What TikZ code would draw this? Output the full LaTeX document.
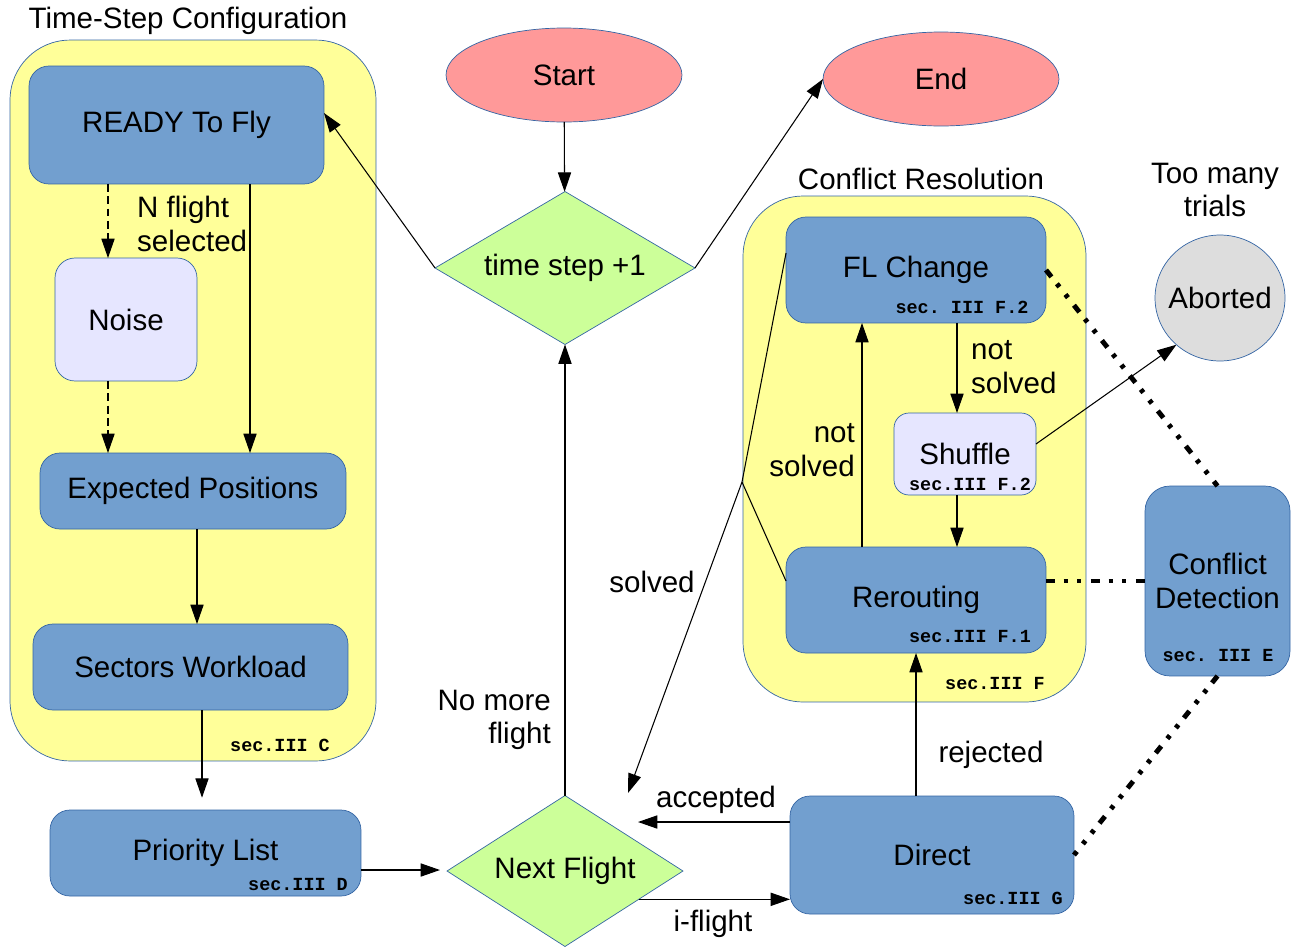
\documentclass[tikz,border=0pt]{standalone}
\usepackage{fontspec}
\setmainfont{Liberation Sans}
\setmonofont{Liberation Mono}
\usetikzlibrary{arrows.meta,shapes.geometric}
\definecolor{boxblue}{HTML}{729FCF}
\definecolor{lineblue}{HTML}{3465A4}
\definecolor{groupyellow}{HTML}{FFFF99}
\definecolor{decgreen}{HTML}{CCFF99}
\definecolor{termred}{HTML}{FF9999}
\definecolor{lightlav}{HTML}{E6E6FF}
\definecolor{abortgray}{HTML}{DDDDDD}
\tikzset{
  group/.style={draw=lineblue, fill=groupyellow, rounded corners=1.2cm, inner sep=0pt, outer sep=0pt},
  box/.style={draw=lineblue, fill=boxblue, rounded corners=0.4cm, inner sep=0pt, outer sep=0pt},
  lightbox/.style={draw=lineblue, fill=lightlav, rounded corners=0.3cm, inner sep=0pt, outer sep=0pt},
  term/.style={ellipse, draw=lineblue, fill=termred, inner sep=0pt, outer sep=0pt, minimum width=4.72cm, minimum height=1.88cm},
  decision/.style={diamond, aspect=1.7, draw=lineblue, fill=decgreen, inner sep=0pt, outer sep=0pt},
  sec/.style={font=\fontsize{10.5}{12}\selectfont\ttfamily\bfseries, inner sep=0pt},
  arr/.style={-{Triangle[length=11pt,width=7.5pt]}, line width=0.6pt},
  dotlink/.style={line width=2.8pt, dash pattern=on 5pt off 5pt on 2.3pt off 5.5pt on 2.3pt off 5.5pt}
}
\begin{document}
\begin{tikzpicture}[x=0.02cm, y=-0.02cm, font=\fontsize{16.8}{19}\selectfont]
  \useasboundingbox (0,0) rectangle (1298,947);
  \node[group, minimum width=7.32cm, minimum height=14.42cm] (tsconf) at (193,400.5) {};
  \node[group, minimum width=6.86cm, minimum height=10.12cm] (confres) at (914.5,449) {};
  \node (tsconftitle) at (188,21) {Time-Step Configuration};
  \node (confrestitle) at (921,179) {Conflict Resolution};
  \node[box, minimum width=5.9cm, minimum height=2.36cm] (ready) at (176.5,125) {READY To Fly};
  \node[lightbox, rounded corners=0.4cm, minimum width=2.84cm, minimum height=2.46cm] (noise) at (126,319.5) {Noise};
  \node[box, minimum width=6.12cm, minimum height=1.52cm] (expected) at (193,491) {Expected Positions};
  \node[box, minimum width=6.3cm, minimum height=1.72cm] (workload) at (190.5,667) {Sectors Workload};
  \node[box, minimum width=6.22cm, minimum height=1.72cm] (priority) at (205.5,853) {Priority List};
  \node[term] (start) at (564,75) {Start};
  \node[term] (end) at (941,79) {End};
  \node[decision, minimum width=5.2cm, minimum height=3.06cm] (tstep) at (565,268) {time step +1};
  \node[decision, minimum width=4.72cm, minimum height=3.02cm] (next) at (565,871) {Next Flight};
  \node[box, minimum width=5.2cm, minimum height=2.12cm] (flchange) at (916,270) {FL Change};
  \node[lightbox, minimum width=2.84cm, minimum height=1.64cm] (shuffle) at (965,454) {Shuffle};
  \node[box, minimum width=5.2cm, minimum height=2.12cm] (rerouting) at (916,600) {Rerouting};
  \node[box, rounded corners=0.5cm, align=center, minimum width=2.9cm, minimum height=3.8cm] (detection) at (1217.5,581) {Conflict\\Detection};
  \node[ellipse, draw=lineblue, fill=abortgray, inner sep=0pt, outer sep=0pt, minimum width=2.6cm, minimum height=2.52cm, label=center:Aborted] (aborted) at (1220,298) {};
  \node[box, minimum width=5.68cm, minimum height=2.36cm] (direct) at (932,855) {Direct};
  \node[align=center] (trials) at (1215,190) {Too many\\trials};
  \node[sec] (secC) at (280,745) {sec.III C};
  \node[sec] (secD) at (298,884) {sec.III D};
  \node[sec] (secFtwo) at (962,307) {sec. III F.2};
  \node[sec] (secFshuffle) at (970,484) {sec.III F.2};
  \node[sec] (secFone) at (970,637) {sec.III F.1};
  \node[sec] (secF) at (995,684) {sec.III F};
  \node[sec] (secE) at (1218,656) {sec. III E};
  \node[sec] (secG) at (1013,898) {sec.III G};
  \node[align=left, anchor=west] (nselected) at (131,224) {N flight\\selected};
  \node[align=right, anchor=east] (notsolvedleft) at (861,450) {not\\solved};
  \node[align=left, anchor=west] (notsolvedright) at (965,367) {not\\solved};
  \node (solved) at (652,582) {solved};
  \node[align=right, anchor=east] (nomore) at (557,720) {No more\\flight};
  \node (accepted) at (716,800) {accepted};
  \node (iflight) at (713,924) {i-flight};
  \node (rejected) at (991,755) {rejected};
  \coordinate (solvedjoin) at (742,482);
  \coordinate (solvedend) at (628,793);
  \coordinate (acceptedend) at (638,822);
  \begin{scope}[arr]
    \draw (start) to (tstep);
    \draw (tstep.east) to (end.west);
    \draw (tstep.west) to ([yshift=0.24cm]ready.east);
    \draw (next.north) to (tstep.south);
    \draw[dash pattern=on 4.5pt off 2.5pt] (108,0 |- ready.south) to (108,0 |- noise.north);
    \draw[dash pattern=on 4.5pt off 2.5pt] (108,0 |- noise.south) to (108,0 |- expected.north);
    \draw (250,0 |- ready.south) to (250,0 |- expected.north);
    \draw (197,0 |- expected.south) to (197,0 |- workload.north);
    \draw[shorten >=7pt] (202,0 |- workload.south) to (202,0 |- priority.north);
    \draw[shorten >=4pt] (priority.east |- 0,870) to (next.west |- 0,870);
    \draw (next.-21) to (next.-21 -| direct.west);
    \draw (direct.west |- acceptedend) to (acceptedend);
    \draw (rerouting.south |- direct.north) to (rerouting.south);
    \draw (862,0 |- rerouting.north) to (862,0 |- flchange.south);
    \draw (957,0 |- flchange.south) to (957,0 |- shuffle.north);
    \draw (957,0 |- shuffle.south) to (957,0 |- rerouting.north);
    \draw ([yshift=0.2cm]shuffle.east) to (aborted.227);
    \draw (solvedjoin) to (solvedend);
  \end{scope}
  \begin{scope}[line width=0.6pt]
    \draw ([yshift=0.34cm]flchange.west) to (solvedjoin);
    \draw ([yshift=0.38cm]rerouting.west) to (solvedjoin);
  \end{scope}
  \begin{scope}[dotlink]
    \draw (flchange.east) to (detection.north);
    \draw (rerouting.east |- detection.west) to (detection.west);
    \draw (detection.south) to (direct.east);
  \end{scope}
\end{tikzpicture}
\end{document}
